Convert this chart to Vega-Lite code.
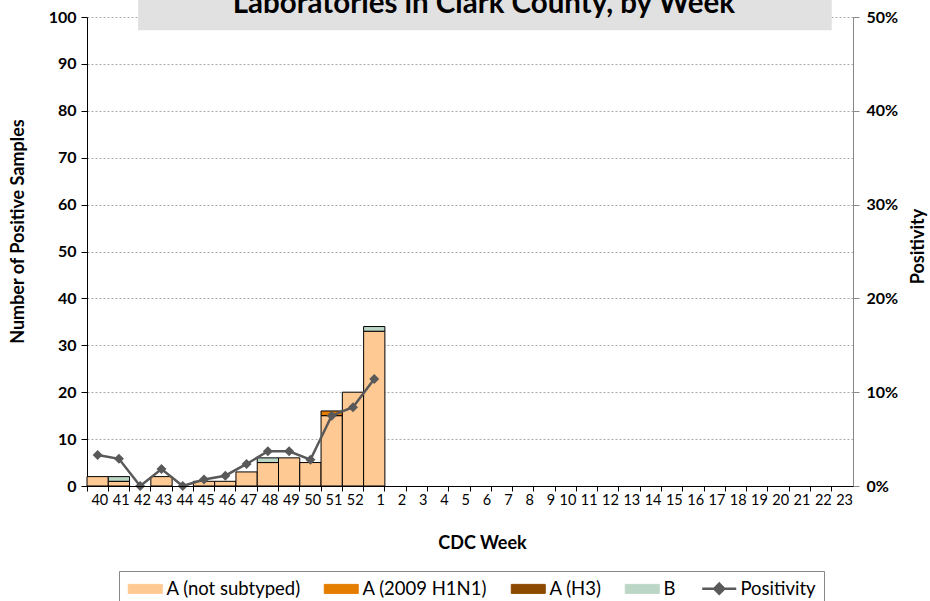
{
  "$schema": "https://vega.github.io/schema/vega-lite/v6.json",
  "width": 766,
  "height": 469,
  "autosize": {"type": "none"},
  "padding": {"left": 87, "top": 17, "right": 77, "bottom": 115},
  "background": "white",
  "config": {"font": "Lato", "view": {"stroke": null}},
  "datasets": {
    "counts": [
      {"week": "40", "type": "A (not subtyped)", "k": 1, "count": 2},
      {"week": "41", "type": "A (not subtyped)", "k": 1, "count": 1},
      {"week": "41", "type": "B", "k": 4, "count": 1},
      {"week": "43", "type": "A (not subtyped)", "k": 1, "count": 2},
      {"week": "45", "type": "A (not subtyped)", "k": 1, "count": 1},
      {"week": "46", "type": "A (not subtyped)", "k": 1, "count": 1},
      {"week": "47", "type": "A (not subtyped)", "k": 1, "count": 3},
      {"week": "48", "type": "A (not subtyped)", "k": 1, "count": 5},
      {"week": "48", "type": "B", "k": 4, "count": 1},
      {"week": "49", "type": "A (not subtyped)", "k": 1, "count": 6},
      {"week": "50", "type": "A (not subtyped)", "k": 1, "count": 5},
      {"week": "51", "type": "A (not subtyped)", "k": 1, "count": 15},
      {"week": "51", "type": "A (2009 H1N1)", "k": 2, "count": 1},
      {"week": "52", "type": "A (not subtyped)", "k": 1, "count": 20},
      {"week": "1", "type": "A (not subtyped)", "k": 1, "count": 33},
      {"week": "1", "type": "B", "k": 4, "count": 1}
    ],
    "positivity": [
      {"week": "40", "pos": 0.033},
      {"week": "41", "pos": 0.029},
      {"week": "42", "pos": 0.0},
      {"week": "43", "pos": 0.018},
      {"week": "44", "pos": 0.0},
      {"week": "45", "pos": 0.007},
      {"week": "46", "pos": 0.011},
      {"week": "47", "pos": 0.0235},
      {"week": "48", "pos": 0.037},
      {"week": "49", "pos": 0.037},
      {"week": "50", "pos": 0.028},
      {"week": "51", "pos": 0.075},
      {"week": "52", "pos": 0.084},
      {"week": "1", "pos": 0.114}
    ],
    "titles": [{"t": "Laboratories in Clark County, by Week"}]
  },
  "layer": [
    {
      "layer": [
        {
          "data": {"name": "titles"},
          "mark": {"type": "rect", "fill": "#E1E1E1", "clip": false},
          "encoding": {
            "x": {"datum": "42", "type": "ordinal", "bandPosition": 0.4},
            "x2": {"datum": "23", "bandPosition": 0},
            "y": {"datum": 103.7, "type": "quantitative"},
            "y2": {"datum": 97.2}
          }
        },
        {
          "data": {"name": "titles"},
          "mark": {"type": "text", "font": "Lato", "fontWeight": "bold", "fontSize": 29.5, "align": "center", "baseline": "alphabetic", "color": "#000", "clip": false},
          "encoding": {
            "x": {"datum": "6", "type": "ordinal", "bandPosition": 0.65},
            "y": {"datum": 100.79, "type": "quantitative"},
            "text": {"field": "t"}
          }
        },
        {
          "data": {"name": "counts"},
          "mark": {"type": "bar", "stroke": "#000", "strokeWidth": 1},
          "encoding": {
            "x": {
              "field": "week",
              "type": "ordinal",
              "scale": {
                "domain": ["40","41","42","43","44","45","46","47","48","49","50","51","52","1","2","3","4","5","6","7","8","9","10","11","12","13","14","15","16","17","18","19","20","21","22","23"],
                "paddingInner": 0,
                "paddingOuter": 0
              },
              "axis": {
                "title": "CDC Week",
                "titleFont": "Lato",
                "titleFontWeight": "bold",
                "titleFontSize": 18,
                "titleColor": "#000",
                "titleX": 395,
                "titleY": 57,
                "titleBaseline": "middle",
                "titleAlign": "center",
                "labelFont": "Lato",
                "labelFontSize": 14.5,
                "labelColor": "#000",
                "labelAngle": 0,
                "labelPadding": 9,
                "bandPosition": 0,
                "labelOffset": 10.64,
                "tickSize": 5,
                "tickColor": "#000",
                "domainColor": "#000",
                "grid": false
              }
            },
            "y": {
              "field": "count",
              "type": "quantitative",
              "stack": "zero",
              "scale": {"domain": [0, 100]},
              "axis": {
                "title": "Number of Positive Samples",
                "titleFont": "Lato",
                "titleFontWeight": "bold",
                "titleFontSize": 18,
                "titleColor": "#000",
                "titleX": -69,
                "titleY": 214,
                "titleBaseline": "middle",
                "titleAlign": "center",
                "titleAngle": 270,
                "labelFont": "Lato",
                "labelFontWeight": "bold",
                "labelFontSize": 16,
                "labelColor": "#000",
                "labelPadding": 5,
                "values": [0, 10, 20, 30, 40, 50, 60, 70, 80, 90, 100],
                "tickSize": 6,
                "tickColor": "#000",
                "domainColor": "#000",
                "grid": true,
                "gridColor": "#aaaaaa",
                "gridDash": [2, 2],
                "gridWidth": 1
              }
            },
            "color": {
              "field": "type",
              "type": "nominal",
              "scale": {
                "domain": ["A (not subtyped)", "A (2009 H1N1)", "A (H3)", "B", "Positivity"],
                "range": ["#FFC993", "#E57D00", "#8C4A00", "#BCD6C6", "#595959"]
              },
              "legend": {
                "orient": "none",
                "legendX": 32,
                "legendY": 554,
                "direction": "horizontal",
                "title": null,
                "labelFont": "Lato",
                "labelFontSize": 18.5,
                "labelColor": "#000",
                "symbolSize": 100,
                "symbolType": "M-1.6,-0.9H5.2V0.9H-1.6Z",
                "symbolStrokeColor": "#000",
                "symbolStrokeWidth": 1,
                "labelOffset": 21,
                "columnPadding": 21,
                "padding": 8,
                "strokeColor": "#888888",
                "encode": {
                  "symbols": {
                    "update": {
                      "shape": {"signal": "datum.value === 'Positivity' ? 'M-1.6,0H5.2M1.8,-1L2.8,0L1.8,1L0.8,0Z' : 'M-1.6,-0.9H5.2V0.9H-1.6Z'"},
                      "stroke": {"signal": "datum.value === 'Positivity' ? '#595959' : '#000000'"},
                      "strokeWidth": {"signal": "datum.value === 'Positivity' ? 2.5 : 1"}
                    }
                  }
                }
              }
            },
            "order": {"field": "k", "type": "quantitative"}
          }
        }
      ]
    },
    {
      "data": {"name": "positivity"},
      "mark": {"type": "line", "strokeWidth": 2.5, "point": {"shape": "diamond", "size": 100, "filled": true, "opacity": 1}},
      "encoding": {
        "x": {"field": "week", "type": "ordinal"},
        "y": {
          "field": "pos",
          "type": "quantitative",
          "scale": {"domain": [0, 0.5]},
          "axis": {
            "orient": "right",
            "title": "Positivity",
            "titleFont": "Lato",
            "titleFontWeight": "bold",
            "titleFontSize": 18,
            "titleColor": "#000",
            "titleAngle": 270,
            "titleBaseline": "middle",
            "titleAlign": "center",
            "titleX": 65,
            "titleY": 229,
            "labelFont": "Lato",
            "labelFontWeight": "bold",
            "labelFontSize": 16,
            "labelColor": "#000",
            "labelPadding": 7,
            "format": ".0%",
            "values": [0, 0.1, 0.2, 0.3, 0.4, 0.5],
            "tickSize": 6,
            "tickColor": "#888888",
            "domainColor": "#888888",
            "grid": false
          }
        },
        "color": {
          "datum": "Positivity",
          "type": "nominal",
          "legend": {
            "orient": "none",
            "legendX": 32,
            "legendY": 554,
            "direction": "horizontal",
            "title": null,
            "labelFont": "Lato",
            "labelFontSize": 18.5,
            "labelColor": "#000",
            "symbolSize": 100,
            "symbolType": "M-1.6,-0.9H5.2V0.9H-1.6Z",
            "symbolStrokeColor": "#000",
            "symbolStrokeWidth": 1,
            "labelOffset": 21,
            "columnPadding": 21,
            "padding": 8,
            "strokeColor": "#888888",
            "encode": {
              "symbols": {
                "update": {
                  "shape": {"signal": "datum.value === 'Positivity' ? 'M-1.6,0H5.2M1.8,-1L2.8,0L1.8,1L0.8,0Z' : 'M-1.6,-0.9H5.2V0.9H-1.6Z'"},
                  "stroke": {"signal": "datum.value === 'Positivity' ? '#595959' : '#000000'"},
                  "strokeWidth": {"signal": "datum.value === 'Positivity' ? 2.5 : 1"}
                }
              }
            }
          }
        }
      }
    }
  ],
  "resolve": {"scale": {"y": "independent"}}
}
